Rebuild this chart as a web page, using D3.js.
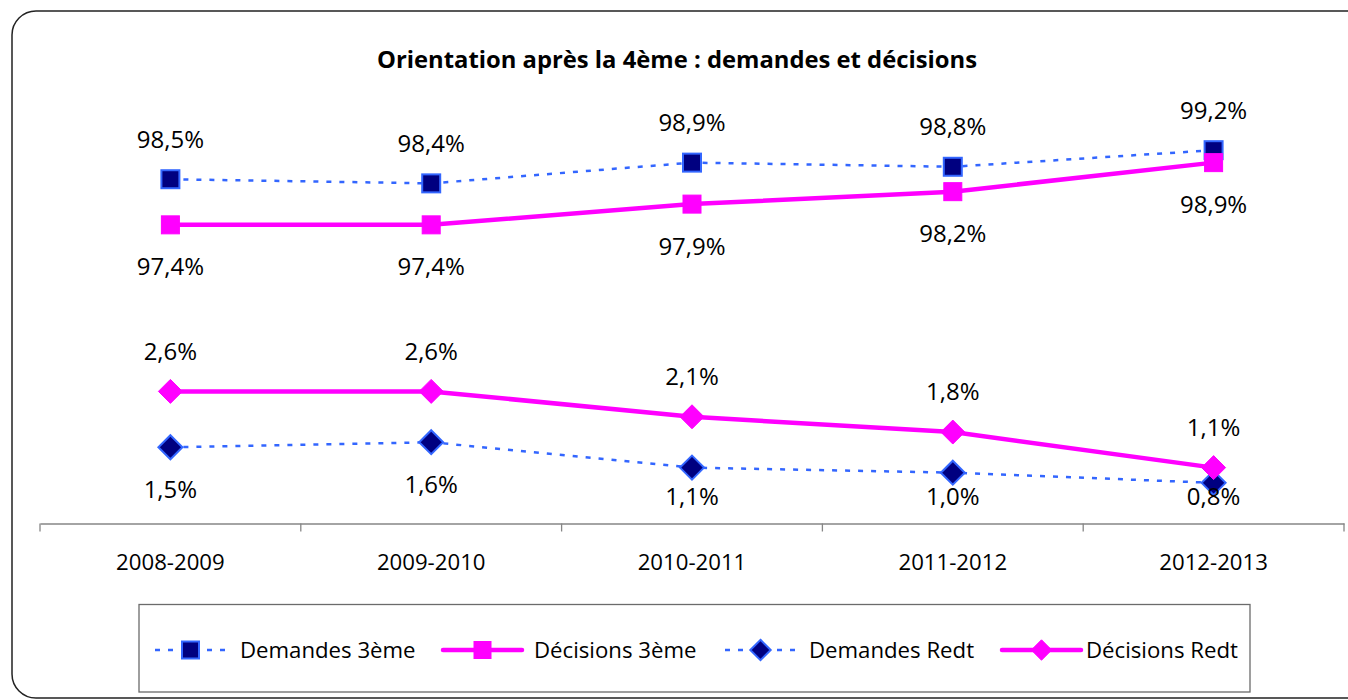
<!DOCTYPE html>
<html><head><meta charset="utf-8">
<script src="https://cdn.jsdelivr.net/npm/d3@7"></script>
<style>
html,body{margin:0;padding:0;background:#fff;}
svg{display:block;}
text{font-family:"Open Sans",sans-serif;}
</style></head>
<body>
<script>
const categories = ["2008-2009","2009-2010","2010-2011","2011-2012","2012-2013"];
const demandes3 = [98.5, 98.4, 98.9, 98.8, 99.2];
const decisions3 = [97.4, 97.4, 97.9, 98.2, 98.9];
const demandesRedt = [1.5, 1.6, 1.1, 1.0, 0.8];
const decisionsRedt = [2.6, 2.6, 2.1, 1.8, 1.1];
const seriesNames = ["Demandes 3ème","Décisions 3ème","Demandes Redt","Décisions Redt"];
const titleText = "Orientation après la 4ème : demandes et décisions";

const W = 1348, H = 700;
const svg = d3.select("body").append("svg").attr("width", W).attr("height", H);

// outer frame
svg.append("rect").attr("x",12).attr("y",11).attr("width",1380).attr("height",687)
  .attr("rx",24).attr("ry",24).attr("fill","#fff").attr("stroke","#222").attr("stroke-width",1.5);

svg.append("text").attr("x",677).attr("y",60).attr("dy","0.35em").attr("text-anchor","middle")
  .attr("font-weight","bold").attr("font-size",23.8).attr("fill","#000").text(titleText);

const plotTop = 117, plotBottom = 523.5;
const x = d3.scaleBand().domain(categories).range([40,1344]);
const yP = d3.scaleLinear().domain([90.2,100]).range([plotBottom,plotTop]);
const yS = d3.scaleLinear().domain([0,8]).range([plotBottom,plotTop]);
const cx = c => x(c) + x.bandwidth()/2;

// x axis
const axis = d3.axisBottom(x).tickSize(0).tickPadding(0).tickFormat("");
const gx = svg.append("g").attr("transform",`translate(0,${plotBottom})`).call(axis);
gx.select(".domain").attr("stroke","#868686").attr("stroke-width",1.3);
const bounds = categories.map(c=>x(c)).concat([x.range()[1]]);
gx.selectAll("line.sep").data(bounds).enter().append("line").attr("class","sep")
  .attr("x1",d=>d).attr("x2",d=>d).attr("y1",0).attr("y2",8).attr("stroke","#868686").attr("stroke-width",1.3);
svg.selectAll("text.cat").data(categories).enter().append("text").attr("class","cat")
  .attr("x",d=>cx(d)).attr("y",562).attr("dy","0.35em").attr("text-anchor","middle").attr("font-size",22.2).attr("fill","#000").text(d=>d);

const BLUE = "#3366FF", NAVY = "#000080", PINK = "#FF00FF";
const fmt = v => d3.format(".1f")(v).replace(".",",") + "%";

const series = [
  {name:seriesNames[0], vals:demandes3, y:yP, dashed:true, marker:"square", labelPos:"above"},
  {name:seriesNames[1], vals:decisions3, y:yP, dashed:false, marker:"square", labelPos:"below"},
  {name:seriesNames[2], vals:demandesRedt, y:yS, dashed:true, marker:"diamond", labelPos:"below"},
  {name:seriesNames[3], vals:decisionsRedt, y:yS, dashed:false, marker:"diamond", labelPos:"above"}
];

function drawMarker(g, type, dashed, px, py, s){
  if(type==="square"){
    g.append("rect").attr("x",px-s/2).attr("y",py-s/2).attr("width",s).attr("height",s)
      .attr("fill",dashed?NAVY:PINK).attr("stroke",dashed?BLUE:PINK).attr("stroke-width",dashed?2:1);
  } else {
    const h = s*0.6;
    g.append("path").attr("d",`M${px},${py-h}L${px+h},${py}L${px},${py+h}L${px-h},${py}Z`)
      .attr("fill",dashed?NAVY:PINK).attr("stroke",dashed?BLUE:PINK).attr("stroke-width",dashed?2:1);
  }
}

// lines
series.forEach(s=>{
  const line = d3.line().x((d,i)=>cx(categories[i])).y(d=>s.y(d));
  svg.append("path").datum(s.vals).attr("d",line).attr("fill","none")
    .attr("stroke",s.dashed?BLUE:PINK).attr("stroke-width",s.dashed?2.5:4.5)
    .attr("stroke-dasharray",s.dashed?"5,8":null);
});
// markers
series.forEach(s=>{
  const g = svg.append("g");
  s.vals.forEach((v,i)=>drawMarker(g, s.marker, s.dashed, cx(categories[i]), s.y(v), s.marker==="square"?18:20));
});
// labels
series.forEach(s=>{
  s.vals.forEach((v,i)=>{
    const py = s.y(v);
    let ly = s.labelPos==="above" ? py - 40 : Math.min(py + 42, 497);
    svg.append("text").attr("x",cx(categories[i])).attr("y",ly).attr("dy","0.35em")
      .attr("text-anchor","middle").attr("font-size",24).attr("fill","#000").text(fmt(v));
  });
});

// legend
svg.append("rect").attr("x",139).attr("y",604.5).attr("width",1111).attr("height",87.5)
  .attr("fill","#fff").attr("stroke","#6b6b6b").attr("stroke-width",1.3);
const legItems = [
  {x1:155,x2:226,text:240},
  {x1:443,x2:522,text:534},
  {x1:725,x2:796,text:809},
  {x1:1002,x2:1081,text:1086}
];
const ly0 = 650;
series.forEach((s,i)=>{
  const it = legItems[i];
  const g = svg.append("g");
  g.append("line").attr("x1",it.x1).attr("x2",it.x2).attr("y1",ly0).attr("y2",ly0)
    .attr("stroke",s.dashed?BLUE:PINK).attr("stroke-width",s.dashed?2.5:4.5)
    .attr("stroke-dasharray",s.dashed?"5,8":null).attr("stroke-linecap",s.dashed?"butt":"round");
  drawMarker(g, s.marker, s.dashed, (it.x1+it.x2)/2, ly0, 17);
  g.append("text").attr("x",it.text).attr("y",ly0).attr("dy","0.35em").attr("font-size",22.2).attr("fill","#000").text(s.name);
});
</script>
</body></html>
